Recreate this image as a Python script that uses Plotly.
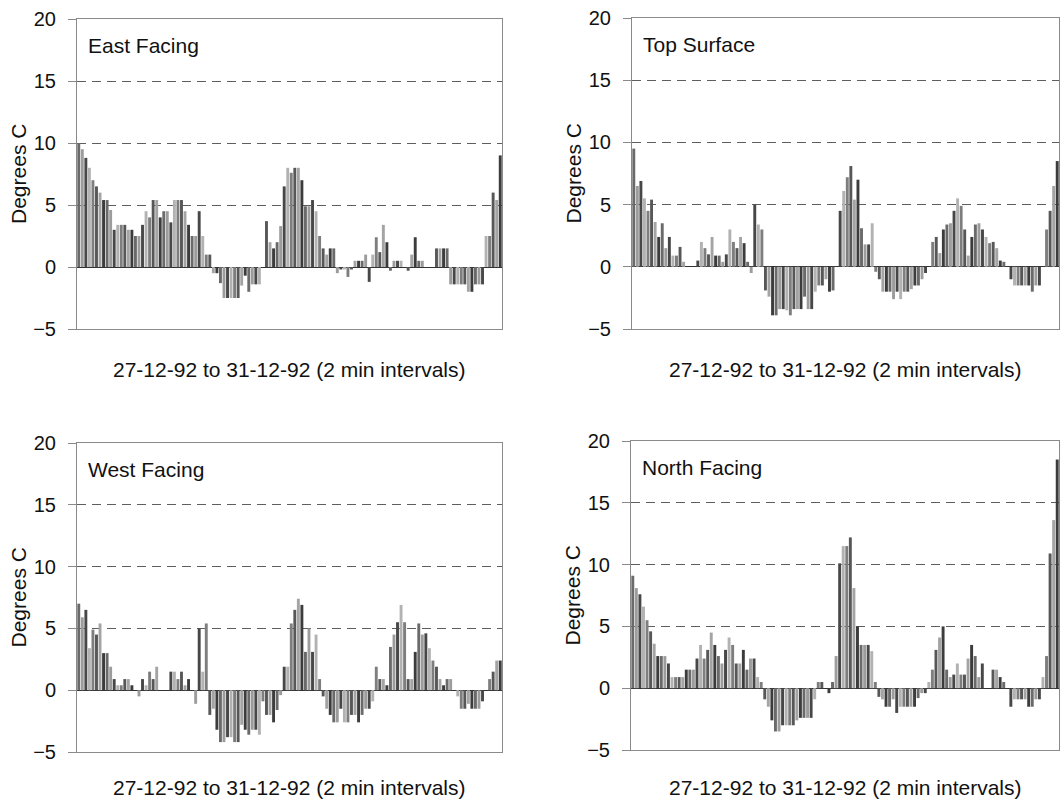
import plotly.graph_objects as go

# ---------------- data (degrees C, 2-minute samples, 27-12-92 to 31-12-92) ----------------
east_facing = [
    10.0, 9.5, 8.8, 8.0, 7.0, 6.5, 6.0, 5.4, 5.4, 4.6,
    3.0, 3.4, 3.4, 3.4, 3.0, 3.0, 2.5, 2.5, 3.4, 4.5,
    4.0, 5.4, 5.4, 4.0, 4.5, 4.5, 3.6, 5.4, 5.4, 5.4,
    4.5, 3.4, 2.5, 2.5, 4.5, 2.5, 1.0, 1.0, -0.5, -0.5,
    -1.3, -2.5, -2.5, -2.5, -2.5, -2.5, -1.5, -0.7, -2.0, -1.4,
    -1.4, -1.4, 0.0, 3.7, 2.0, 1.5, 2.0, 3.3, 6.5, 8.0,
    7.6, 8.0, 8.0, 7.0, 4.9, 4.9, 5.4, 4.5, 2.5, 1.5,
    1.0, 1.5, 1.5, -0.5, -0.2, -0.2, -0.8, -0.2, 0.5, 0.5,
    0.5, 1.0, -1.2, 1.0, 2.4, 1.2, 3.4, 2.0, -0.3, 0.5,
    0.5, 0.5, 0.0, -0.3, 1.0, 2.4, 0.5, 0.5, 0.0, 0.0,
    0.0, 1.5, 1.5, 1.5, 1.5, -1.4, -1.4, -1.4, -1.4, -1.4,
    -2.0, -2.0, -1.4, -1.4, -1.4, 2.5, 2.5, 6.0, 5.4, 9.0,
]

top_surface = [
    9.5, 6.5, 6.9, 5.5, 4.5, 5.4, 3.6, 2.4, 3.5, 1.5,
    2.4, 0.9, 0.9, 1.6, 0.4, 0.0, 0.0, 0.0, 0.5, 2.0,
    1.5, 1.0, 2.4, 0.9, 0.9, 0.4, 1.0, 3.0, 2.0, 1.5,
    2.4, 1.9, 0.4, -0.5, 5.0, 3.4, 3.0, -1.9, -2.4, -3.9,
    -3.9, -3.4, -3.4, -3.5, -3.9, -3.4, -3.4, -3.4, -2.4, -3.4,
    -3.4, -2.0, -1.5, -1.5, -1.0, -2.0, -1.9, 0.0, 4.5, 6.1,
    7.2, 8.1, 5.4, 7.0, 3.1, 1.8, 1.8, 3.5, -0.4, -1.0,
    -2.0, -2.0, -2.0, -2.6, -2.0, -2.6, -2.0, -2.0, -1.8, -1.5,
    -1.5, -1.0, -0.5, 0.0, 2.0, 2.4, 1.1, 3.0, 3.4, 3.5,
    4.5, 5.5, 4.9, 3.0, 0.9, 2.4, 3.4, 3.5, 3.0, 2.4,
    1.9, 2.0, 1.5, 0.5, 0.4, 0.0, -1.0, -1.5, -1.5, -1.5,
    -1.5, -1.5, -2.0, -1.5, -1.5, 0.0, 3.0, 4.5, 6.5, 8.5,
]

west_facing = [
    7.0, 5.9, 6.5, 3.4, 4.9, 4.5, 5.4, 3.0, 3.0, 1.9,
    0.9, 0.4, 0.4, 0.9, 0.9, 0.4, 0.0, -0.5, 0.9, 0.4,
    1.5, 0.9, 1.9, 0.0, 0.0, 0.0, 1.5, 1.5, 0.9, 1.5,
    0.4, 0.9, 0.0, -1.1, 5.0, 1.5, 5.4, -2.0, -1.5, -3.2,
    -4.2, -4.2, -3.8, -3.8, -4.2, -4.2, -2.8, -3.2, -3.6, -3.2,
    -3.2, -3.6, -0.9, -2.0, -2.0, -2.6, -1.6, -0.4, 1.9, 1.9,
    5.4, 6.5, 7.4, 6.9, 3.1, 5.0, 3.1, 4.5, 0.9, -0.5,
    -1.5, -2.0, -2.6, -2.6, -1.5, -2.6, -2.6, -2.0, -2.0, -2.6,
    -2.0, -1.5, -1.5, -0.9, 1.9, 0.9, 0.9, 0.4, 3.5, 4.5,
    5.5, 6.9, 5.5, 0.9, 0.9, 3.1, 5.4, 4.5, 4.6, 3.4,
    2.4, 1.9, 0.9, 0.4, 0.9, 0.9, 0.0, -0.5, -1.5, -1.5,
    -1.1, -1.5, -1.5, -1.5, -0.9, 0.0, 0.9, 1.5, 2.4, 2.4,
]

north_facing = [
    9.1, 8.1, 7.6, 6.6, 5.5, 4.6, 3.6, 2.6, 2.6, 2.6,
    2.0, 0.9, 0.9, 0.9, 0.9, 1.5, 1.5, 1.5, 2.4, 3.5,
    2.4, 3.1, 4.5, 3.5, 2.6, 2.0, 3.1, 4.1, 3.5, 2.0,
    2.0, 3.1, 1.5, 2.4, 2.4, 0.9, 0.5, -0.9, -1.5, -2.6,
    -3.5, -3.5, -3.0, -3.0, -3.0, -3.0, -2.6, -2.4, -2.4, -2.4,
    -2.4, -0.9, 0.5, 0.5, 0.0, -0.4, 0.5, 2.6, 10.1, 11.5,
    11.5, 12.2, 8.1, 5.0, 3.5, 3.5, 3.5, 3.0, 0.5, -0.7,
    -0.9, -1.5, -1.5, -0.9, -2.0, -1.5, -1.5, -1.5, -1.5, -1.5,
    -0.8, -0.4, -0.4, 0.5, 1.5, 3.1, 4.1, 5.0, 1.5, 0.9,
    1.1, 2.0, 1.1, 1.1, 2.4, 3.5, 2.6, 0.9, 2.0, 0.0,
    0.0, 1.5, 1.5, 0.9, 0.5, 0.0, -1.5, -0.9, -0.9, -0.9,
    -0.9, -1.5, -1.5, -0.9, -0.9, 0.9, 2.6, 10.9, 13.6, 18.5,
]

panel_titles = ["East Facing", "Top Surface", "West Facing", "North Facing"]
y_ticks = [-5, 0, 5, 10, 15, 20]
x_title = "27-12-92 to 31-12-92 (2 min intervals)"
y_title = "Degrees C"

# ---------------- figure ----------------
W, H = 1060, 802
FONT = "Liberation Sans, Arial, sans-serif"
series = [east_facing, top_surface, west_facing, north_facing]

# plot-area boxes in window pixels: (left, right, top, bottom)
boxes = [(77, 502, 19, 329), (632, 1059, 18, 329), (77, 502, 443, 752), (631, 1059, 441, 750)]
grays = ["#6a6a6a", "#9c9c9c", "#474747", "#b2b2b2", "#7e7e7e", "#575757", "#a4a4a4", "#3c3c3c"]


def px(x):
    return x / W


def py(y):
    return 1 - y / H


fig = go.Figure()
annotations = []
for k, (vals, box) in enumerate(zip(series, boxes)):
    n = k + 1
    xs = list(range(len(vals)))
    cols = [grays[i % len(grays)] for i in xs]
    fig.add_trace(go.Bar(x=xs, y=vals, marker=dict(color=cols, line=dict(width=0)),
                         xaxis=f"x{n}", yaxis=f"y{n}", showlegend=False, hoverinfo="skip"))
    l, r, t, b = box
    xdom = [px(l), px(r)]
    ydom = [py(b), py(t)]
    fig.layout[f"xaxis{n}"] = dict(domain=xdom, anchor=f"y{n}", range=[-0.5, len(vals) - 0.5],
                                   automargin=False,
                                   showticklabels=False, showgrid=False, zeroline=False,
                                   showline=True, mirror=True, linecolor="#8a8a8a", linewidth=1,
                                   ticks="")
    fig.layout[f"yaxis{n}"] = dict(domain=ydom, anchor=f"x{n}", range=[-5, 20],
                                   automargin=False, ticklabeloverflow="allow",
                                   tickvals=y_ticks, ticks="outside", ticklen=8, tickcolor="#8a8a8a",
                                   ticklabelstandoff=8,
                                   tickfont=dict(family=FONT, size=20, color="#111"),
                                   showgrid=True, gridcolor="#5e5e5e", griddash="9px,6px", gridwidth=1,
                                   zeroline=True, zerolinecolor="#333", zerolinewidth=1,
                                   showline=True, mirror=True, linecolor="#8a8a8a", linewidth=1)
    # panel title inside plot area
    annotations.append(dict(text=panel_titles[k], xref="paper", yref="paper",
                            x=px(l + 9), y=py(t + 26), xanchor="left", yanchor="middle",
                            showarrow=False, font=dict(family=FONT, size=21, color="#111")))
    # y-axis title
    annotations.append(dict(text=y_title, xref="paper", yref="paper",
                            x=px(l - 59), y=py((t + b) / 2), textangle=-90,
                            xanchor="center", yanchor="middle", showarrow=False,
                            font=dict(family=FONT, size=21, color="#111")))
    # x-axis title (kept inside the page at the bottom row)
    annotations.append(dict(text=x_title, xref="paper", yref="paper",
                            x=px((l + r) / 2), y=py(min(b + 40, 787)),
                            xanchor="center", yanchor="middle", showarrow=False,
                            font=dict(family=FONT, size=21, color="#111")))

fig.update_layout(width=W, height=H, margin=dict(l=0, r=0, t=0, b=0, autoexpand=False),
                  paper_bgcolor="white", plot_bgcolor="white",
                  bargap=0.18, annotations=annotations, hovermode=False,
                  font=dict(family=FONT, size=20, color="#111"))

fig.write_html("out.html", config={"displayModeBar": False},
               post_script="document.body.style.margin='0';document.body.style.overflow='hidden';")
